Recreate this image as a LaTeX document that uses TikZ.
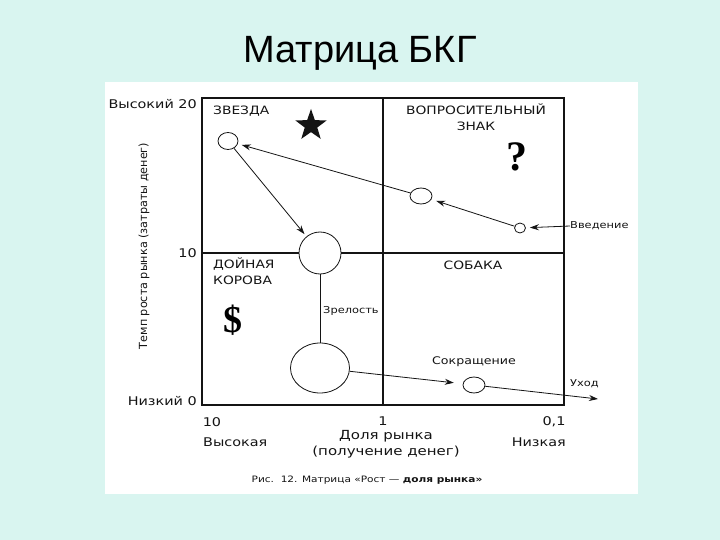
\documentclass[tikz,border=0pt]{standalone}
\usepackage{fontspec}
\setmainfont{DejaVu Sans}[FakeStretch=1.2]
\newfontfamily\plainsans{DejaVu Sans}
\newfontfamily\titlefont{Liberation Sans}
\newfontfamily\serifb{Liberation Serif}
\usetikzlibrary{shapes.geometric,arrows.meta}
\definecolor{bg}{RGB}{217,245,240}
\definecolor{ink}{RGB}{20,20,20}
\begin{document}
\begin{tikzpicture}[x=1pt,y=-1pt,
  lab/.style={inner sep=0pt, text=ink, font=\fontsize{12}{14}\selectfont},
  caps/.style={inner sep=0pt, text=ink, font=\fontsize{11.5}{16}\selectfont, align=left},
  small/.style={inner sep=0pt, text=ink, font=\fontsize{9.5}{11}\selectfont},
  circ/.style={ellipse, draw=ink, fill=white, inner sep=0pt, line width=0.8pt},
  arr/.style={draw=ink, line width=0.8pt, -{Stealth[length=9pt,width=6pt]}},
  ln/.style={draw=ink, line width=0.8pt}]
\useasboundingbox (0,0) rectangle (720,540);
\fill[bg] (0,0) rectangle (720,540);
\fill[white] (105,82) rectangle (638,494);
% title
\node[inner sep=0pt, anchor=base, font=\titlefont\fontsize{38}{40}\selectfont] (title) at (360,63) {Матрица БКГ};
% matrix
\draw[ln, line width=1.1pt] (202,98) rectangle (564,405);
\draw[ln, line width=1.1pt] (383,98) -- (383,405);
\draw[ln, line width=1.1pt] (202,253) -- (564,253);
% quadrant labels
\node[caps, anchor=west] (zv) at (213,111) {ЗВЕЗДА};
\node[star, star points=5, star point ratio=2.5, fill=ink, inner sep=0pt, minimum size=33pt] (star) at (311,125.5) {};
\node[caps, align=center, anchor=north] (vop) at (476,104) {ВОПРОСИТЕЛЬНЫЙ\\ЗНАК};
\node[inner sep=0pt, font=\serifb\bfseries\fontsize{42}{44}\selectfont] (qm) at (517,157) {?};
\node[caps, anchor=north west] (cow) at (213,258) {ДОЙНАЯ\\КОРОВА};
\node[inner sep=0pt, font=\serifb\bfseries\fontsize{38}{40}\selectfont] (dol) at (233,320) {\$};
\node[caps, anchor=center] (dog) at (473,265) {СОБАКА};
% axis labels
\node[lab, anchor=east] (hi) at (197,104) {Высокий 20};
\node[lab, anchor=east] (ten) at (197,253) {10};
\node[lab, anchor=east] (lo) at (197,401) {Низкий 0};
\node[lab, rotate=90, font=\plainsans\fontsize{11.2}{13}\selectfont] (yax) at (144,246) {Темп роста рынка (затраты денег)};
\node[lab] (x10) at (212,422) {10};
\node[lab] (x1) at (383,421) {1};
\node[lab] (x01) at (554,422) {0,1};
\node[lab, anchor=west] (xhi) at (203,442) {Высокая};
\node[lab, align=center, font=\fontsize{12.5}{15.5}\selectfont] (xax) at (386,444) {Доля рынка\\(получение денег)};
\node[lab, anchor=east] (xlo) at (566,442) {Низкая};
\node[small, font=\fontsize{8.8}{10}\selectfont] (cap) at (367,480) {Рис.~~12. Матрица «Рост — \textbf{доля рынка»}};
% circles
\node[circ, minimum width=20pt, minimum height=17pt] (s) at (228,141) {};
\node[circ, minimum width=42pt, minimum height=42pt] (big) at (320,253) {};
\node[circ, minimum width=22pt, minimum height=16pt] (q) at (421,196) {};
\node[circ, minimum width=11pt, minimum height=10pt] (c1) at (520,228) {};
\node[circ, minimum width=59pt, minimum height=50pt] (bot) at (320,368) {};
\node[circ, minimum width=22pt, minimum height=16pt] (sok) at (474,385) {};
% small labels
\node[small, anchor=west] (vved) at (570,226) {Введение};
\node[small, anchor=west] (zrel) at (323,311) {Зрелость};
\node[small, font=\fontsize{10.5}{12}\selectfont] (sokl) at (474,362) {Сокращение};
\node[small, anchor=west] (uhod) at (570,384) {Уход};
\coordinate (uend) at (598,399);
% connectors
\draw[arr, shorten >=4pt] (vved.west) -- (c1);
\draw[arr, shorten >=5pt] (c1) -- (q);
\draw[arr, shorten >=4pt] (q) -- (s);
\draw[arr, shorten >=3pt] (s) -- (big);
\draw[ln] (big) -- (bot);
\draw[arr, shorten >=9pt] (bot) -- (sok);
\draw[arr] (sok) -- (uend);
\end{tikzpicture}
\end{document}
